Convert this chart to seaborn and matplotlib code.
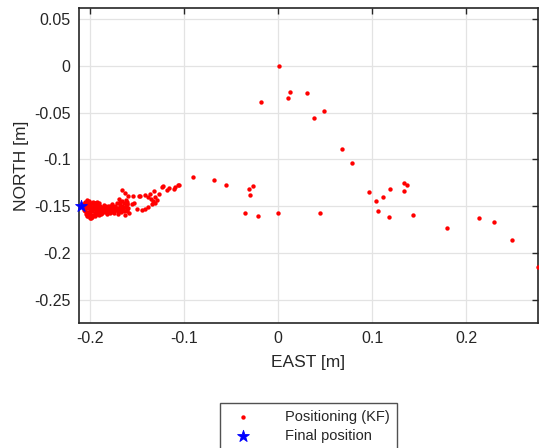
import numpy as np
import pandas as pd
import matplotlib
matplotlib.use('Agg')
import matplotlib.pyplot as plt
import seaborn as sns

# ── Data ────────────────────────────────────────────────────
kf_east = [
    # dense cluster, left part
    -0.207, -0.206, -0.205, -0.205, -0.204, -0.204, -0.203, -0.203, -0.202, -0.202,
    -0.202, -0.201, -0.201, -0.200, -0.200, -0.199, -0.199, -0.198, -0.198, -0.197,
    -0.197, -0.196, -0.196, -0.195, -0.195, -0.194, -0.194, -0.193, -0.193, -0.192,
    -0.192, -0.191, -0.191, -0.190, -0.190,
    -0.206, -0.204, -0.203, -0.201, -0.200, -0.199, -0.198, -0.196, -0.195, -0.193,
    -0.192, -0.190, -0.206, -0.203, -0.200, -0.197, -0.194, -0.191,
    # dense cluster, middle band
    -0.189, -0.188, -0.187, -0.186, -0.185, -0.184, -0.183, -0.182, -0.181, -0.180,
    -0.179, -0.178, -0.177, -0.176, -0.175, -0.174, -0.173, -0.172,
    -0.189, -0.187, -0.185, -0.183, -0.181, -0.179, -0.177, -0.175, -0.173,
    -0.188, -0.184, -0.180, -0.176, -0.174,
    # dense cluster, right chunk
    -0.171, -0.170, -0.169, -0.169, -0.168, -0.167, -0.166, -0.165, -0.164, -0.163,
    -0.162, -0.161, -0.160, -0.159, -0.158,
    -0.171, -0.168, -0.166, -0.164, -0.162, -0.160, -0.170, -0.167, -0.163, -0.161,
    # trail
    -0.166, -0.163, -0.159, -0.154, -0.148, -0.141, -0.136, -0.132, -0.131, -0.135,
    -0.129, -0.123, -0.118, -0.111, -0.106, -0.155, -0.150, -0.145, -0.141, -0.138,
    -0.134, -0.131, -0.161, -0.116, -0.122, -0.127, -0.138, -0.133, -0.147, -0.153,
    -0.110, -0.105, -0.090,
    # scattered points
    -0.068, -0.055, -0.027, -0.031, -0.030, -0.035, -0.021, 0.000, -0.018, 0.001,
    0.013, 0.010, 0.031, 0.049, 0.038, 0.044, 0.068, 0.078, 0.097, 0.104,
    0.111, 0.106, 0.119, 0.118, 0.134, 0.137, 0.134, 0.143, 0.179, 0.213,
    0.229, 0.248, 0.2755,
]
kf_north = [
    -0.148, -0.152, -0.145, -0.155, -0.149, -0.158, -0.143, -0.152, -0.147, -0.156,
    -0.160, -0.150, -0.144, -0.153, -0.158, -0.147, -0.162, -0.151, -0.155, -0.145,
    -0.159, -0.149, -0.153, -0.157, -0.146, -0.151, -0.160, -0.148, -0.155, -0.152,
    -0.158, -0.149, -0.156, -0.153, -0.147,
    -0.150, -0.146, -0.160, -0.157, -0.148, -0.154, -0.161, -0.146, -0.150, -0.158,
    -0.145, -0.159, -0.154, -0.149, -0.162, -0.151, -0.147, -0.152,
    -0.155, -0.151, -0.157, -0.153, -0.149, -0.156, -0.152, -0.158, -0.150, -0.154,
    -0.157, -0.151, -0.155, -0.148, -0.153, -0.157, -0.150, -0.154,
    -0.150, -0.154, -0.152, -0.155, -0.153, -0.150, -0.152, -0.156, -0.152,
    -0.158, -0.150, -0.156, -0.151, -0.155,
    -0.146, -0.158, -0.142, -0.152, -0.149, -0.156, -0.144, -0.153, -0.147, -0.159,
    -0.150, -0.155, -0.145, -0.152, -0.157,
    -0.152, -0.145, -0.150, -0.155, -0.143, -0.148, -0.155, -0.153, -0.151, -0.148,
    -0.133, -0.136, -0.139, -0.139, -0.139, -0.138, -0.137, -0.134, -0.140, -0.142,
    -0.143, -0.129, -0.133, -0.132, -0.127, -0.148, -0.153, -0.154, -0.153, -0.151,
    -0.148, -0.146, -0.153, -0.131, -0.128, -0.137, -0.140, -0.144, -0.139, -0.147,
    -0.129, -0.127, -0.119,
    -0.122, -0.127, -0.128, -0.132, -0.138, -0.157, -0.160, -0.157, -0.039, 0.000,
    -0.028, -0.035, -0.029, -0.048, -0.056, -0.157, -0.089, -0.104, -0.135, -0.144,
    -0.140, -0.155, -0.132, -0.161, -0.125, -0.127, -0.134, -0.159, -0.173, -0.163,
    -0.167, -0.186, -0.215,
]
final_east = [-0.2095]
final_north = [-0.150]

xticks = [-0.2, -0.1, 0, 0.1, 0.2]
xticklabels = ['-0.2', '-0.1', '0', '0.1', '0.2']
yticks = [0.05, 0, -0.05, -0.1, -0.15, -0.2, -0.25]
yticklabels = ['0.05', '0', '-0.05', '-0.1', '-0.15', '-0.2', '-0.25']

# ── Style ───────────────────────────────────────────────────
sns.set_style('white')
plt.rcParams['font.family'] = ['Liberation Sans', 'DejaVu Sans']
TEXT = '#262626'
GRID = '#e3e3e3'

kf = pd.DataFrame({'east': kf_east, 'north': kf_north})
fin = pd.DataFrame({'east': final_east, 'north': final_north})

fig = plt.figure(figsize=(5.39, 4.48), dpi=100)
ax = fig.add_axes([79 / 539, 1 - 323 / 448, 459 / 539, 315 / 448])

sns.scatterplot(data=kf, x='east', y='north', ax=ax, color='#ff0000',
                marker='o', s=10, linewidth=0, label='Positioning (KF)', zorder=3)
sns.scatterplot(data=fin, x='east', y='north', ax=ax, color='#0000ff',
                marker='*', s=80, linewidth=0.6, edgecolor='#0000ff',
                label='Final position', zorder=4, clip_on=False)

ax.set_xlim(-0.2115, 0.276)
ax.set_ylim(-0.2745, 0.0615)
ax.set_xticks(xticks)
ax.set_xticklabels(xticklabels)
ax.set_yticks(yticks)
ax.set_yticklabels(yticklabels)
ax.grid(True, color=GRID, linewidth=0.9)
ax.set_axisbelow(True)
ax.tick_params(direction='in', top=True, right=True, length=4, width=1,
               colors=TEXT, labelsize=11.5, pad=6)
for spine in ax.spines.values():
    spine.set_edgecolor(TEXT)
    spine.set_linewidth(1.2)
ax.set_xlabel('EAST [m]', fontsize=12.5, color=TEXT, labelpad=6)
ax.set_ylabel('NORTH [m]', fontsize=12.5, color=TEXT, labelpad=4)

handles, labels = ax.get_legend_handles_labels()
ax.get_legend().remove()
leg = fig.legend(handles, labels, loc='upper center',
                 bbox_to_anchor=(308.5 / 539, 1 - 403 / 448),
                 fancybox=False, edgecolor=TEXT, fontsize=10.5,
                 handletextpad=1.8, borderpad=0.45, labelspacing=0.35,
                 handlelength=2.2, borderaxespad=0)
leg.get_frame().set_linewidth(1.0)

fig.savefig('out.png', dpi=100)
